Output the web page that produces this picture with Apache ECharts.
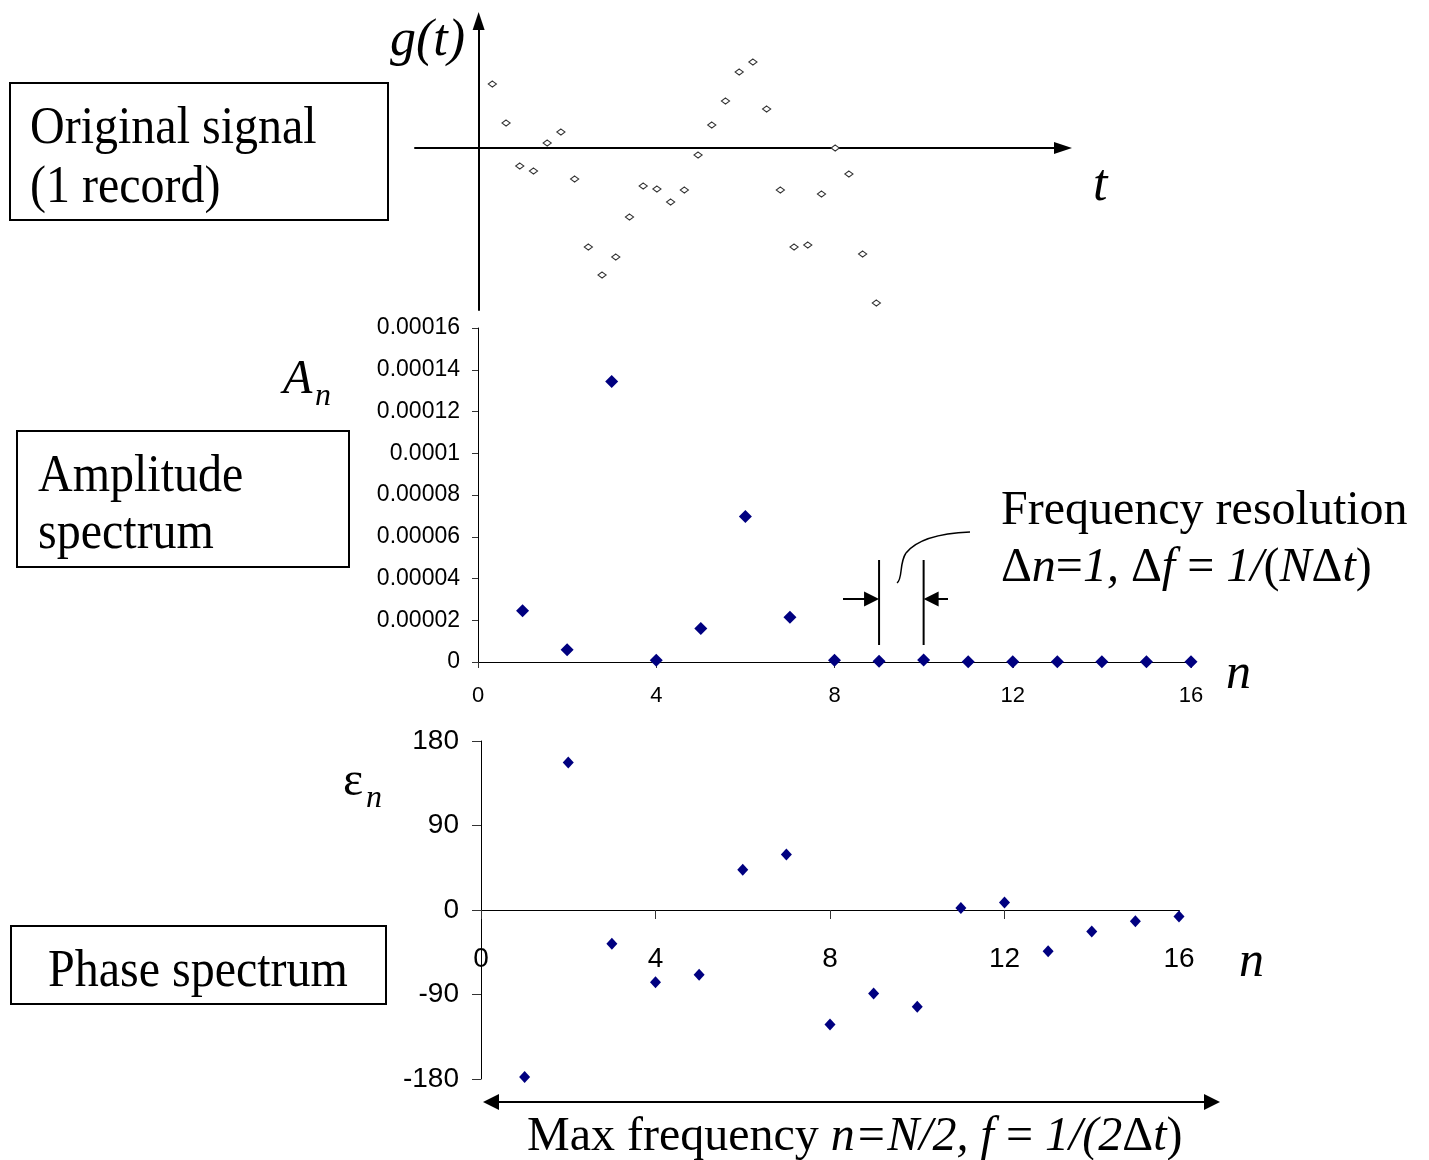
<!DOCTYPE html>
<html>
<head>
<meta charset="utf-8">
<title>Signal, amplitude and phase spectrum</title>
<script src="https://cdn.jsdelivr.net/npm/echarts@6/dist/echarts.min.js"></script>
<style>
  html, body { margin: 0; padding: 0; background: #fff; }
  #chart { width: 1429px; height: 1160px; }
</style>
</head>
<body>
<div id="chart"></div>
<script>
// original signal, one record (arbitrary units)
const tSteps = [1, 2, 3, 4, 5, 6, 7, 8, 9, 10, 11, 12, 13, 14, 15, 16, 17, 18, 19, 20, 21, 22, 23, 24, 25, 26, 27, 28, 29]
const gValues = [0.64, 0.25, -0.18, -0.23, 0.05, 0.16, -0.31, -0.99, -1.27, -1.09, -0.69, -0.38, -0.41, -0.54,
  -0.42, -0.07, 0.23, 0.47, 0.76, 0.86, 0.39, -0.42, -0.99, -0.97, -0.46, 0.0, -0.26, -1.06, -1.55]

// spectrum, harmonic number n
const nValues = [1, 2, 3, 4, 5, 6, 7, 8, 9, 10, 11, 12, 13, 14, 15, 16]
const amplitude = [0.0000246, 0.0000059, 0.0001344, 0.0000008, 0.0000161, 0.0000697, 0.0000214, 0.0000008,
  0.0000003, 0.000001, 0.0000001, 0.0000001, 0.0000001, 0.0000001, 0.0000001, 0.0000001]
const phase = [-178, 157, -36, -77, -69, 43, 59, -122, -89, -103, 2, 8, -44, -23, -12, -7]

// tick labels
const nTicks = [0, 4, 8, 12, 16]
const ampTicks = [0, 0.00002, 0.00004, 0.00006, 0.00008, 0.0001, 0.00012, 0.00014, 0.00016]
const phaseTicks = [-180, -90, 0, 90, 180]

const SERIF = "'Liberation Serif', 'Times New Roman', serif"
const SANS = "'Liberation Sans', Arial, sans-serif"
const NAVY = '#000080'

const chart = echarts.init(document.getElementById('chart'))

const hiddenAxis = {
  axisLabel: { show: false },
  axisTick: { show: false },
  splitLine: { show: false }
}
const arrowLine = {
  onZero: true,
  symbol: ['none', 'triangle'],
  symbolSize: [12, 18],
  lineStyle: { color: '#000', width: 2 }
}
const thinLine = { lineStyle: { color: '#000', width: 1 } }

// phase plot: n axis crosses at 0 deg, i.e. half the grid height up
const phaseGrid = { left: 481, top: 741, width: 698, height: 338 }

const option = {
  animation: false,
  backgroundColor: '#fff',
  grid: [
    { left: 415, top: 21, width: 648, height: 289 },
    { left: 478, top: 328, width: 713, height: 334 },
    phaseGrid
  ],
  xAxis: [
    Object.assign({ type: 'value', gridIndex: 0, min: -4.64, max: 42.61, axisLine: arrowLine }, hiddenAxis),
    {
      type: 'value', gridIndex: 1,
      min: nTicks[0], max: nTicks[nTicks.length - 1], interval: nTicks[1] - nTicks[0],
      axisLine: thinLine,
      axisTick: { length: 6, lineStyle: { color: '#333' } },
      axisLabel: { color: '#000', fontFamily: SANS, fontSize: 22, margin: 23 },
      splitLine: { show: false }
    },
    {
      type: 'value', gridIndex: 2, position: 'bottom', offset: -phaseGrid.height / 2,
      min: nTicks[0], max: nTicks[nTicks.length - 1], interval: nTicks[1] - nTicks[0],
      axisLine: Object.assign({ onZero: false }, thinLine),
      axisTick: { length: 9, lineStyle: { color: '#333' } },
      axisLabel: { color: '#000', fontFamily: SANS, fontSize: 28, margin: 35 },
      splitLine: { show: false }
    }
  ],
  yAxis: [
    Object.assign({ type: 'value', gridIndex: 0, min: -1.62, max: 1.27, axisLine: arrowLine }, hiddenAxis),
    {
      type: 'value', gridIndex: 1,
      min: ampTicks[0], max: ampTicks[ampTicks.length - 1], interval: ampTicks[1] - ampTicks[0],
      axisLine: Object.assign({ show: true }, thinLine),
      axisTick: { show: true, length: 6, lineStyle: { color: '#333' } },
      axisLabel: {
        color: '#000', fontFamily: SANS, fontSize: 23, margin: 18,
        formatter: v => String(+v.toFixed(5))
      },
      splitLine: { show: false }
    },
    {
      type: 'value', gridIndex: 2,
      min: phaseTicks[0], max: phaseTicks[phaseTicks.length - 1], interval: phaseTicks[1] - phaseTicks[0],
      axisLine: Object.assign({ show: true }, thinLine),
      axisTick: { show: true, length: 9, lineStyle: { color: '#333' } },
      axisLabel: { color: '#000', fontFamily: SANS, fontSize: 28, margin: 22 },
      splitLine: { show: false }
    }
  ],
  series: [
    {
      type: 'scatter', xAxisIndex: 0, yAxisIndex: 0,
      symbol: 'diamond', symbolSize: [8, 6],
      itemStyle: { color: '#fff', borderColor: '#333', borderWidth: 1.2, opacity: 1 },
      data: tSteps.map((t, i) => [t, gValues[i]])
    },
    {
      type: 'scatter', xAxisIndex: 1, yAxisIndex: 1,
      symbol: 'diamond', symbolSize: [13, 13],
      itemStyle: { color: NAVY, opacity: 1 },
      data: nValues.map((n, i) => [n, amplitude[i]])
    },
    {
      type: 'scatter', xAxisIndex: 2, yAxisIndex: 2,
      symbol: 'diamond', symbolSize: [11, 12],
      itemStyle: { color: NAVY, opacity: 1 },
      data: nValues.map((n, i) => [n, phase[i]])
    }
  ]
}

chart.setOption(option)

// text placed by its left edge and baseline
function label(text, left, baseline, size, opts) {
  opts = opts || {}
  const sy = opts.scaleY || 1
  return {
    type: 'text', x: left, y: baseline - 0.3 * size * sy, scaleY: sy, z: 10,
    style: Object.assign({
      text: text, fontFamily: SERIF, fontSize: size, fill: '#000',
      align: 'left', verticalAlign: 'middle'
    }, opts.style || {})
  }
}
function box(x1, y1, x2, y2) {
  return {
    type: 'rect', shape: { x: x1, y: y1, width: x2 - x1, height: y2 - y1 },
    style: { fill: 'none', stroke: '#000', lineWidth: 2 }
  }
}
function seg(x1, y1, x2, y2, w) {
  return { type: 'line', shape: { x1, y1, x2, y2 }, style: { stroke: '#000', lineWidth: w || 2 } }
}
function head(tipX, tipY, dir, len, half) {
  return {
    type: 'polygon',
    shape: { points: [[tipX, tipY], [tipX - dir * len, tipY - half], [tipX - dir * len, tipY + half]] },
    style: { fill: '#000' }
  }
}
const richStyle = size => ({
  u: { fontFamily: SERIF, fontSize: size },
  i: { fontFamily: SERIF, fontSize: size, fontStyle: 'italic' }
})
const italic = { style: { fontStyle: 'italic' } }

// resolution marks sit on harmonics 9 and 10
const x9 = chart.convertToPixel({ gridIndex: 1 }, [9, 0])[0]
const x10 = chart.convertToPixel({ gridIndex: 1 }, [10, 0])[0]
const arrowY = 599

chart.setOption({
  graphic: { elements: [
    box(10, 83, 388, 220),
    label('Original signal', 30, 145, 48, { scaleY: 1.12 }),
    label('(1 record)', 30, 204, 48, { scaleY: 1.12 }),
    box(17, 431, 349, 567),
    label('Amplitude', 38, 493, 48, { scaleY: 1.12 }),
    label('spectrum', 38, 550, 48, { scaleY: 1.12 }),
    box(11, 926, 386, 1004),
    label('Phase spectrum', 48, 988, 48, { scaleY: 1.1 }),

    label('g(t)', 390, 57, 52, italic),
    label('t', 1093, 202, 52, italic),
    label('A', 283, 395, 48, italic),
    label('n', 315, 406, 32, italic),
    label('n', 1226, 690, 50, italic),
    label('\u03b5', 343, 797, 48),
    label('n', 366, 808, 32, italic),
    label('n', 1239, 978, 50, italic),

    label('Frequency resolution', 1001, 526, 48),
    label('{u|\u0394}{i|n}{u|=}{i|1,} {u|\u0394}{i|f}{u| = }{i|1/}{u|(}{i|N}{u|\u0394}{i|t}{u|)}', 1001, 583, 48,
      { style: { rich: richStyle(48) } }),
    seg(x9, 560, x9, 645),
    seg(x10, 560, x10, 645),
    seg(843, arrowY, x9 - 14, arrowY),
    head(x9, arrowY, 1, 15, 7.5),
    seg(x10 + 14, arrowY, 948, arrowY),
    head(x10, arrowY, -1, 15, 7.5),
    {
      type: 'bezierCurve',
      shape: { x1: 897, y1: 583, cpx1: 903, cpy1: 579, cpx2: 899, cpy2: 563, x2: 906, y2: 553 },
      style: { stroke: '#000', lineWidth: 1.5, fill: 'none' }
    },
    {
      type: 'bezierCurve',
      shape: { x1: 906, y1: 553, cpx1: 918, cpy1: 538, cpx2: 945, cpy2: 533, x2: 970, y2: 532 },
      style: { stroke: '#000', lineWidth: 1.5, fill: 'none' }
    },

    seg(497, 1102, 1206, 1102),
    head(483, 1102, -1, 16, 8),
    head(1220, 1102, 1, 16, 8),
    label('{u|Max frequency }{i|n=N/2, f}{u| = }{i|1/(2}{u|\u0394}{i|t}{u|)}', 527, 1152, 48,
      { style: { rich: richStyle(48) } })
  ] }
})
</script>
</body>
</html>
